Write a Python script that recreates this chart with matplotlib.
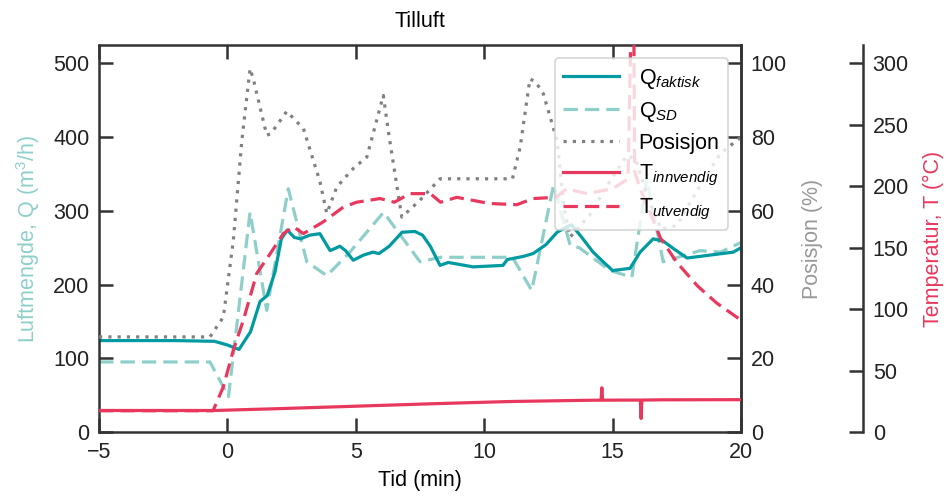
import numpy as np
import matplotlib
matplotlib.use("Agg")
import matplotlib.pyplot as plt

plt.rcParams.update({
    "font.family": "Liberation Sans",
    "font.size": 15.5,
    "mathtext.fontset": "custom",
    "mathtext.rm": "Liberation Sans",
    "mathtext.it": "Liberation Sans:italic",
    "axes.edgecolor": "#333333",
    "axes.linewidth": 1.8,
    "xtick.direction": "in",
    "ytick.direction": "in",
    "xtick.major.size": 10,
    "ytick.major.size": 10,
    "xtick.major.width": 1.8,
    "ytick.major.width": 1.8,
    "xtick.color": "#333333",
    "ytick.color": "#333333",
    "xtick.labelcolor": "#222222",
    "ytick.labelcolor": "#222222",
})

C_Q = "#009aa0"
C_QSD = "#8ecfca"
C_POS = "#808080"
C_T = "#e8385e"

# ── data ──────────────────────────────────────────────────────────────────────
t_q = [-5, -2, -0.5, 0.0, 0.45, 0.9, 1.27, 1.55, 1.85, 2.1, 2.33, 2.6, 2.85,
       3.2, 3.6, 4.0, 4.38, 4.6, 4.9, 5.3, 5.67, 5.9, 6.3, 6.8, 7.3, 7.6, 7.9,
       8.28, 8.6, 9.56, 10.73, 10.9, 11.5, 11.9, 12.4, 12.84, 13.2, 13.4, 13.8,
       14.24, 14.6, 15.0, 15.68, 16.07, 16.58, 16.97, 17.4, 17.9, 18.8, 19.7, 20]
q_faktisk = [124, 124, 123, 118, 112, 136, 177, 185, 217, 262, 274, 264, 262,
             267, 269, 246, 252, 246, 233, 240, 244, 242, 252, 271, 272, 267, 252,
             226, 230, 224, 226, 234, 238, 242, 254, 271, 278, 281, 264,
             244, 232, 219, 222, 244, 262, 259, 248, 236, 240, 244, 250]

t_qsd = [-5, -0.68, 0.04, 0.88, 1.53, 2.37, 3.09, 3.87, 4.77, 6.08, 7.5, 8.3,
         11.1, 11.85, 12.7, 13.35, 13.7, 14.9, 15.75, 16.33, 16.97, 18.4, 19.2, 20]
q_sd = [95, 95, 48, 298, 165, 330, 231, 212, 244, 298, 231, 237,
        237, 192, 335, 253, 250, 219, 210, 343, 231, 246, 244, 257]

t_pos = [-5, -0.68, -0.16, 0.23, 0.56, 0.88, 1.0, 1.53, 1.7, 2.31, 2.96, 3.6,
         3.87, 4.26, 4.9, 5.43, 6.07, 6.3, 6.79, 7.5, 8.28, 11.1, 11.4, 11.78,
         12.0, 12.3, 12.84, 13.1, 13.35, 14.1, 14.8, 15.55, 15.9, 16.4, 16.9,
         17.5, 18.3, 19.2, 20]
posisjon = [25.8, 25.8, 31.2, 52, 79, 98.6, 96, 80.5, 81, 87, 82.3, 68,
            59.3, 66.5, 71.5, 74.6, 91.3, 80, 58.3, 62.9, 68.7, 68.7, 77.3, 95.8,
            95, 91.8, 79, 61, 52.9, 58.8, 67, 75, 74, 63, 55,
            56, 65.6, 75.6, 80]

t_ti = [-5, -0.5, 2, 5, 8, 11, 14, 14.55, 14.58, 14.61, 16.08, 16.11, 16.14,
        17, 20]
t_innvendig = [17.5, 17.5, 19, 21, 23, 24.8, 25.8, 25.9, 36, 25.9, 26, 11, 26,
               26.2, 26.3]

t_tu = [-5, -0.56, -0.16, 0.23, 0.62, 1.14, 1.66, 2.18, 2.57, 2.96, 3.73,
        4.51, 5.03, 5.94, 6.5, 7.1, 7.9, 8.3, 8.93, 10.2, 11.27, 11.9, 12.8,
        13.2, 14.0, 15.0, 15.6, 15.8, 15.86, 16.07, 16.46, 16.86, 17.5, 18.3,
        19.05, 20]
t_utvendig = [17.3, 17.3, 36.8, 66.7, 91, 129, 145, 161.5, 167, 161.5, 171,
              183, 187, 190, 187, 194, 194, 187, 191, 186, 185, 190, 191,
              198, 194, 198, 206, 420, 212, 198, 179, 158, 138, 119,
              105, 91]

# ── figure ────────────────────────────────────────────────────────────────────
fig = plt.figure(figsize=(9.46, 4.97), dpi=100)
ax1 = fig.add_axes([0.1047, 0.1308, 0.6786, 0.7787])
ax2 = ax1.twinx()
ax3 = ax1.twinx()

LW = 2.3
l1, = ax1.plot(t_qsd, q_sd, color=C_QSD, lw=LW, dashes=(4.5, 2.2),
               label=r"Q$_{SD}$")
l0, = ax1.plot(t_q, q_faktisk, color=C_Q, lw=LW, label=r"Q$_{faktisk}$")
l2, = ax2.plot(t_pos, posisjon, color=C_POS, lw=LW, dashes=(1, 1.9),
               label="Posisjon")
l3, = ax3.plot(t_ti, t_innvendig, color=C_T, lw=LW, label=r"T$_{innvendig}$")
l4, = ax3.plot(t_tu, t_utvendig, color=C_T, lw=LW, dashes=(4.5, 2.2),
               label=r"T$_{utvendig}$")

ax1.set_xlim(-5, 20)
ax1.set_xticks([-5, 0, 5, 10, 15, 20])
ax1.set_ylim(0, 525)
ax1.set_yticks(range(0, 501, 100))
ax2.set_ylim(0, 105)
ax2.set_yticks(range(0, 101, 20))
ax3.set_ylim(0, 315)
ax3.set_yticks(range(0, 301, 50))

ax1.tick_params(axis="x", top=True, pad=7)
ax1.tick_params(axis="y", pad=7)
ax2.tick_params(axis="y", pad=7)
ax3.tick_params(axis="y", pad=7)

for ax in (ax2, ax3):
    ax.patch.set_visible(False)
    for s in ("top", "bottom", "left"):
        ax.spines[s].set_visible(False)
ax3.spines["right"].set_position(("axes", 1.19))

ax1.set_xlabel("Tid (min)", labelpad=5)
ax1.set_ylabel(r"Luftmengde, Q (m$^3$/h)", color=C_QSD, labelpad=8)
ax2.set_ylabel("Posisjon (%)", color="#999999", labelpad=11)
ax3.set_ylabel("Temperatur, T (°C)", color=C_T, labelpad=10)
ax1.set_title("Tilluft", fontsize=15.5, pad=13)

leg = ax3.legend(handles=[l0, l1, l2, l3, l4], loc="upper right",
                 framealpha=0.8, edgecolor="#cccccc", fontsize=15.5,
                 handlelength=2.6, handletextpad=0.9, labelspacing=0.42,
                 borderaxespad=0.6)
leg.get_frame().set_linewidth(1.2)

fig.savefig("out.png", dpi=100)
